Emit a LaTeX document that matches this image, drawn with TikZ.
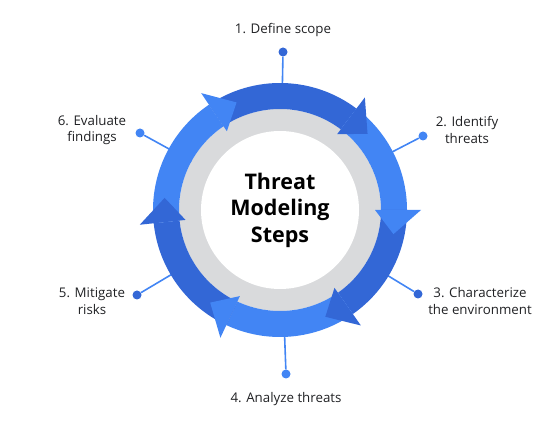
\documentclass[tikz,border=0pt]{standalone}
\usepackage{fontspec}
\setmainfont{Open Sans}
\definecolor{darkblue}{HTML}{3367D6}
\definecolor{lightblue}{HTML}{4285F4}
\definecolor{ringgray}{HTML}{D9DADC}
\definecolor{textgray}{HTML}{202124}
\tikzset{
  dot/.style={circle,fill=#1,inner sep=0pt,minimum size=9pt},
  steplabel/.style={text=textgray,align=center,font=\fontsize{13.3}{16.5}\selectfont},
  spoke/.style={lightblue,line width=1.6pt}
}
\begin{document}
\begin{tikzpicture}[x=1pt,y=1pt]
\useasboundingbox (0,0) rectangle (556,425);
\coordinate (C) at (280,215);
% dots and labels
\node[dot=darkblue] (D1) at (283,373) {};
\node[dot=lightblue] (D2) at (423,289) {};
\node[dot=darkblue] (D3) at (418,131) {};
\node[dot=lightblue] (D4) at (286,51) {};
\node[dot=darkblue] (D5) at (137,130) {};
\node[dot=lightblue] (D6) at (140,292) {};
\node[steplabel] (L1) at (283,395) {1. Define scope};
\node[steplabel] (L2) at (467,295) {2. Identify\\threats};
\node[steplabel] (L3) at (480,124) {3. Characterize\\the environment};
\node[steplabel] (L4) at (286,26) {4. Analyze threats};
\node[steplabel] (L5) at (92,124) {5. Mitigate\\risks};
\node[steplabel] (L6) at (92,295) {6. Evaluate\\findings};
% spokes, hidden under the ring
\foreach \d in {D1,D2,D3,D4,D5,D6}
  \draw[spoke] (C) -- (\d);
% ring
\fill[ringgray] (C) circle[radius=101pt];
\fill[white] (C) circle[radius=79pt];
\begin{scope}[shift={(C)}]
\foreach \a/\b/\col in {124/53/darkblue,53/0/lightblue,0/-55/darkblue,-55/-115/lightblue,-115/-174/darkblue,186/124/lightblue}
  \fill[\col] (\a:127pt) arc[start angle=\a,end angle=\b,radius=127pt]
    -- (\b:101pt) arc[start angle=\b,end angle=\a,radius=101pt] -- cycle;
\foreach \b/\col in {53/darkblue,0/lightblue,-55/darkblue,-115/lightblue,-174/darkblue,124/lightblue}
  \fill[\col] (\b:95pt) -- (\b:141pt) -- ({\b-12}:116pt) -- cycle;
\end{scope}
\node[font=\bfseries\fontsize{21.5}{26.5}\selectfont,align=center] (T) at (C) {Threat\\Modeling\\Steps};
\end{tikzpicture}
\end{document}
